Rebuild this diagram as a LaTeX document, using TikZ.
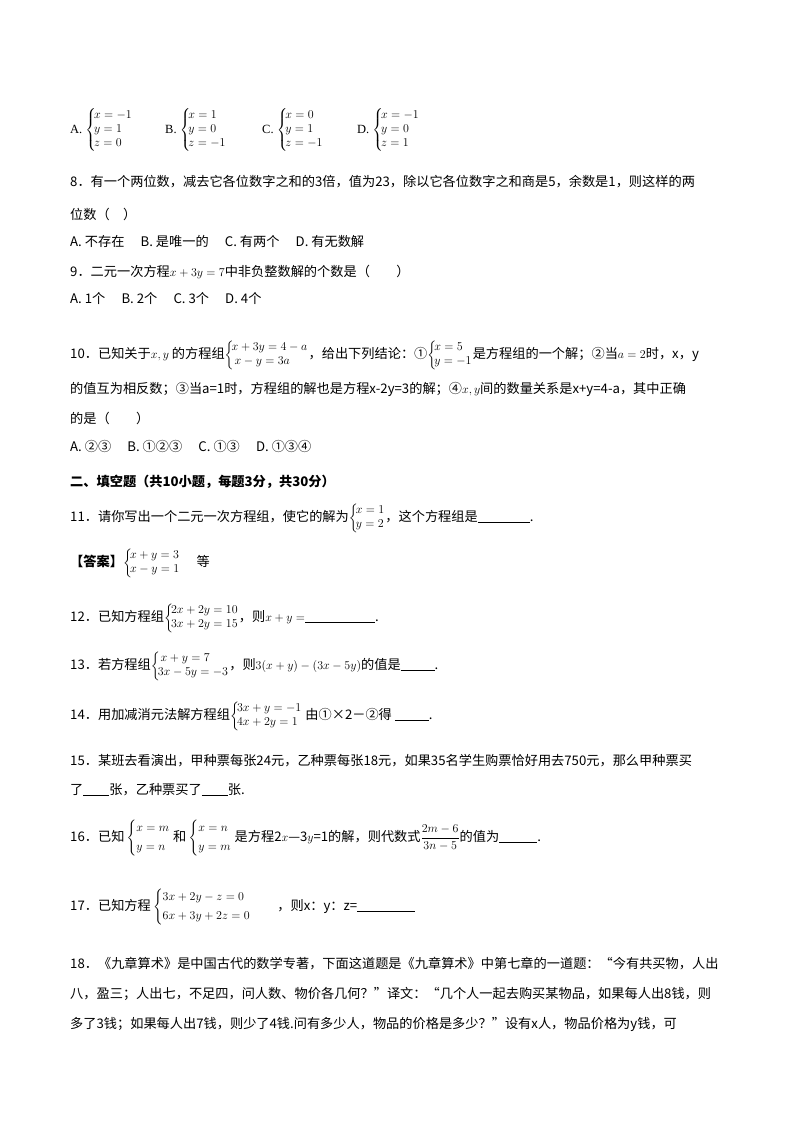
\documentclass[tikz,border=0pt]{standalone}
\usepackage{amsmath}
\usepackage{fontspec}
\setmainfont{Liberation Serif}
\newfontfamily\cjk{Noto Sans CJK SC}
\begin{document}
\begin{tikzpicture}[x=1pt,y=-1pt,
  ln/.style={anchor=base west,inner sep=0pt,font=\fontsize{13.2}{15}\selectfont\cjk},
  sm/.style={anchor=base west,inner sep=0pt,font=\fontsize{12.5}{14}\selectfont}]
\useasboundingbox[fill=white] (0,0) rectangle (800,1132);
\newcommand{\sys}[2]{{\fontsize{12.5}{14}\selectfont$\left\{\!\begin{array}{@{}l@{}}#1\\#2\end{array}\right.$}}
\newcommand{\sysi}[3]{$\left\{\!\begin{array}{@{}l@{}}#1\\#2\\#3\end{array}\right.$}
% options 7
\node[sm] (o7a) at (70,133) {A.\ \sysi{x=-1}{y=1}{z=0}};
\node[sm] (o7b) at (165,133) {B.\ \sysi{x=1}{y=0}{z=-1}};
\node[sm] (o7c) at (262,133) {C.\ \sysi{x=0}{y=1}{z=-1}};
\node[sm] (o7d) at (357,133) {D.\ \sysi{x=-1}{y=0}{z=1}};
\node[ln] (q8) at (70,186) {8．有一个两位数，减去它各位数字之和的3倍，值为23，除以它各位数字之和商是5，余数是1，则这样的两};
\node[ln] (q8b) at (70,219) {位数（　）};
\node[ln] (q8o) at (70,246) {A.\ 不存在\quad\ B.\ 是唯一的\quad\ C.\ 有两个\quad\ D.\ 有无数解};
\node[ln] (q9) at (70,276) {9．二元一次方程$x+3y=7$中非负整数解的个数是（\qquad）};
\node[ln] (q9o) at (70,303) {A.\ 1个\quad\ B.\ 2个\quad\ C.\ 3个\quad\ D.\ 4个};
\node[ln] (q10) at (70,358) {10．已知关于$x,y$ 的方程组\sys{x+3y=4-a}{\ x-y=3a}，给出下列结论：①\sys{x=5}{y=-1}是方程组的一个解；②当$a=2$时，x，y};
\node[ln] (q10b) at (70,393) {的值互为相反数；③当a=1时，方程组的解也是方程x-2y=3的解；④$x,y$间的数量关系是x+y=4-a，其中正确};
\node[ln] (q10c) at (70,423) {的是（　　）};
\node[ln] (q10o) at (70,451) {A.\ ②③\quad\ B.\ ①②③\quad\ C.\ ①③\quad\ D.\ ①③④};
\node[ln,font=\fontsize{13.2}{15}\selectfont\cjk\bfseries] (h2) at (70,486) {二、填空题（共10小题，每题3分，共30分）};
\node[ln] (q11) at (70,521) {11．请你写出一个二元一次方程组，使它的解为\sys{x=1}{y=2}，这个方程组是\underline{\hspace{52pt}}.};
\node[ln] (ans) at (70,566) {\textbf{【答案】}\sys{x+y=3}{x-y=1}\quad\ 等};
\node[ln] (q12) at (70,621) {12．已知方程组\sys{2x+2y=10}{3x+2y=15}，则$x+y=$\underline{\hspace{70pt}}.};
\node[ln] (q13) at (70,669) {13．若方程组\sys{\ x+y=7}{3x-5y=-3}，则$3(x+y)-(3x-5y)$的值是\underline{\hspace{34pt}}.};
\node[ln] (q14) at (70,719) {14．用加减消元法解方程组\sys{3x+y=-1}{4x+2y=1}\ 由①×2－②得\ \underline{\hspace{34pt}}.};
\node[ln] (q15) at (70,765) {15．某班去看演出，甲种票每张24元，乙种票每张18元，如果35名学生购票恰好用去750元，那么甲种票买};
\node[ln] (q15b) at (70,794) {了\underline{\hspace{26pt}}张，乙种票买了\underline{\hspace{26pt}}张.};
\node[ln] (q16) at (70,841) {16．已知\,$\left\{\begin{array}{@{}l@{}}x=m\\[4pt]y=n\end{array}\right.$\ 和\,$\left\{\begin{array}{@{}l@{}}x=n\\[4pt]y=m\end{array}\right.$\ 是方程2$x$—3$y$=1的解，则代数式$\dfrac{2m-6}{3n-5}$的值为\underline{\hspace{38pt}}.};
\node[ln] (q17) at (70,910) {17．已知方程\,$\left\{\begin{array}{@{}l@{}}3x+2y-z=0\\[4pt]6x+3y+2z=0\end{array}\right.$\qquad，则x：y：z=\underline{\hspace{58pt}}};
\node[ln] (q18) at (70,968) {18．《九章算术》是中国古代的数学专著，下面这道题是《九章算术》中第七章的一道题：“今有共买物，人出};
\node[ln] (q18b) at (70,998) {八，盈三；人出七，不足四，问人数、物价各几何？”译文：“几个人一起去购买某物品，如果每人出8钱，则};
\node[ln] (q18c) at (70,1028) {多了3钱；如果每人出7钱，则少了4钱.问有多少人，物品的价格是多少？”设有x人，物品价格为y钱，可};
\end{tikzpicture}
\end{document}
